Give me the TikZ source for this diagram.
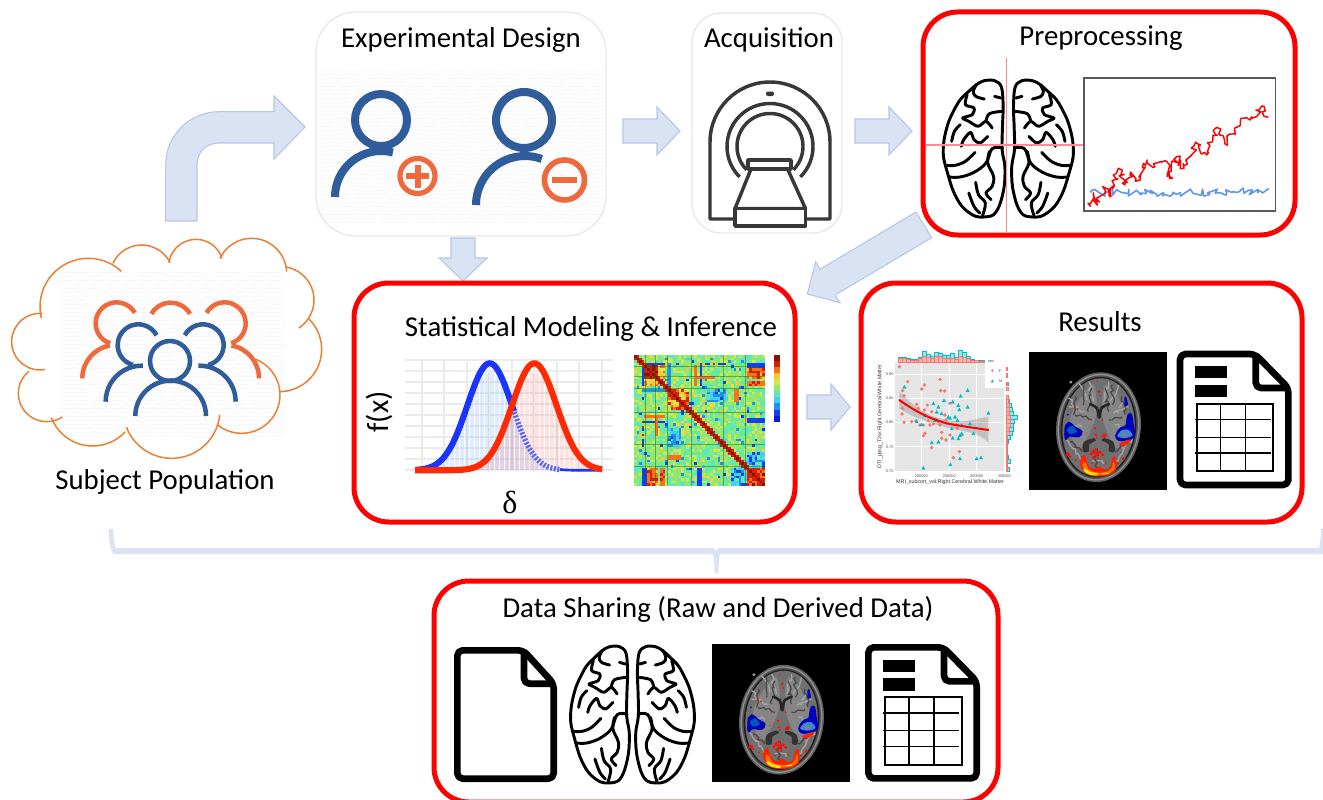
\documentclass[tikz,border=0pt]{standalone}
\usepackage{fontspec}
\setmainfont{Carlito}
\newfontfamily\plotfont{Liberation Sans}
\newfontfamily\greekfont{Liberation Serif}
\usetikzlibrary{decorations.pathmorphing}
\definecolor{arrowfill}{HTML}{DAE3F3}
\definecolor{arrowline}{HTML}{B4C7E7}
\definecolor{iconblue}{HTML}{2F5D9B}
\definecolor{iconorange}{HTML}{EE6A3C}
\definecolor{cloudline}{HTML}{ED7D31}
\definecolor{graybox}{HTML}{E8E8E8}
\definecolor{salmon}{HTML}{F8766D}
\definecolor{tealpt}{HTML}{00BFC4}
\definecolor{seriesblue}{HTML}{6495ED}
\definecolor{gaussblue}{HTML}{1A35FF}
\definecolor{gaussred}{HTML}{FF2A00}
\definecolor{hm0}{HTML}{0A1ECC}
\definecolor{hm1}{HTML}{1040F0}
\definecolor{hm2}{HTML}{2090F0}
\definecolor{hm3}{HTML}{40D0F0}
\definecolor{hm4}{HTML}{60E8B0}
\definecolor{hm5}{HTML}{90E870}
\definecolor{hm6}{HTML}{D0E850}
\definecolor{hm7}{HTML}{F8C830}
\definecolor{hm8}{HTML}{F87018}
\definecolor{hm9}{HTML}{D82008}
\definecolor{hm10}{HTML}{8A1000}
\tikzset{
  boxtitle/.style={inner sep=0pt,font=\fontsize{21.6}{24}\selectfont,text=black},
  plainbox/.style={draw=graybox,line width=1pt,rounded corners=#1,inner sep=0pt,outer sep=0pt},
  redbox/.style={draw=red,line width=3.75pt,rounded corners=26pt,inner sep=0pt,outer sep=0pt},
  fatarrow/.style={fill=arrowfill,draw=arrowline,line width=0.8pt,line join=miter},
  zoomed/.style={shift={#1},x=0.25pt,y=-0.25pt},
  cloudarc/.style={draw=cloudline,line width=1.1pt},
  headline/.style={draw=iconblue,line width=6pt},
  smallblue/.style={draw=iconblue,line width=3.4pt},
  smallorange/.style={draw=iconorange,line width=3.4pt},
  scannerline/.style={draw=black!78,line width=2.6pt,line join=round},
  brainline/.style={draw=black,line width=2.2pt,line cap=round,line join=round},
  docline/.style={draw=black,line width=5pt,line join=round},
  crossline/.style={draw=red!45,line width=1pt},
  noiseback/.style={fill=black!0.6},
  noiserow/.style={draw=black!2.2,line width=0.6pt},
  gridline/.style={draw=black!8,line width=1.5pt},
  plottext/.style={inner sep=0pt,text=black!70,font=\plotfont\fontsize{2.9}{3.2}\selectfont},
  plotaxis/.style={inner sep=0pt,text=black!80,font=\plotfont\fontsize{4}{4.4}\selectfont},
}
\newcommand\noisebg[4]{%
  \fill[noiseback] (#1,#2) rectangle (#3,#4);
  \pgfmathsetseed{77}
  \foreach \yy in {#2,\the\numexpr#2+4\relax,...,#4}{%
    \pgfmathsetmacro\da{4+random(0,24)}%
    \pgfmathsetmacro\db{1+random(0,8)}%
    \draw[noiserow,dash pattern=on \da pt off \db pt] (#1,\yy) -- (#3,\yy);
  }%
}
% circular arc: centre x, centre y, radius, start angle, end angle, style
\newcommand\bump[6]{\draw[#6] (#1,#2) ++(#4:#3) arc[start angle=#4,end angle=#5,radius=#3];}
\newcommand\brainhalf{%
  \draw[brainline] plot[smooth cycle,tension=0.55] coordinates {(245,262)(225,243)(195,243)(172,255)(150,275)(125,300)(105,335)(90,370)(78,420)(76,470)(88,520)(105,575)(130,620)(165,648)(195,652)(222,645)(240,615)(253,560)(255,500)(247,450)(248,380)(250,320)};
  \draw[brainline] plot[smooth,tension=0.6] coordinates {(172,255)(163,275)(170,290)(195,298)};
  \draw[brainline] (225,290) -- (243,295);
  \draw[brainline] plot[smooth,tension=0.5] coordinates {(145,285)(140,315)(165,325)(160,345)(132,355)(150,365)(177,380)(200,365)(218,385)};
  \draw[brainline] plot[smooth,tension=0.6] coordinates {(200,365)(210,342)(248,335)};
  \draw[brainline] plot[smooth,tension=0.6] coordinates {(125,375)(108,395)(100,425)};
  \draw[brainline] plot[smooth,tension=0.5] coordinates {(128,440)(135,420)(155,398)(165,420)(183,430)(205,410)};
  \draw[brainline] plot[smooth,tension=0.6] coordinates {(168,458)(140,485)(110,497)(85,497)};
  \draw[brainline] plot[smooth,tension=0.6] coordinates {(248,445)(218,447)(200,490)(165,518)(125,532)(92,532)};
  \draw[brainline] plot[smooth,tension=0.6] coordinates {(210,455)(205,490)(222,530)(218,560)(200,580)(215,600)};
  \draw[brainline] plot[smooth,tension=0.6] coordinates {(170,548)(178,585)(198,610)(190,648)};
  \draw[brainline] plot[smooth,tension=0.6] coordinates {(150,580)(165,620)(182,640)};
}
\newcommand\drawbrain[3]{%
  \begin{scope}[shift={(#1,#2)},xscale=#3,x=0.25pt,y=-0.25pt,shift={(-265,-448)}]\brainhalf\end{scope}
  \begin{scope}[shift={(#1,#2)},xscale=-#3,x=0.25pt,y=-0.25pt,shift={(-265,-448)}]\brainhalf\end{scope}
}
\newcommand\drawdoc[2]{%
  \begin{scope}[zoomed={(#1,#2)}]
    \draw[docline,rounded corners=4pt] (10,10) -- (235,10) -- (335,112) -- (335,403) -- (10,403) -- cycle;
    \draw[docline,rounded corners=4pt] (237,12) -- (237,112) -- (333,112);
    \fill[black] (55,47) rectangle (150,83);
    \fill[black] (55,103) rectangle (150,140);
    \draw[black,line width=1.4pt] (60,160) rectangle (290,362);
    \foreach \ty in {207,260,307} \draw[black,line width=0.9pt] (55,\ty) -- (283,\ty);
    \foreach \tx in {132,207} \draw[black,line width=0.9pt] (\tx,160) -- (\tx,362);
  \end{scope}
}
\newcommand\drawblank[2]{%
  \begin{scope}[zoomed={(#1,#2)}]
    \draw[docline,rounded corners=4pt] (10,10) -- (208,10) -- (299,110) -- (299,395) -- (10,395) -- cycle;
    \draw[docline,rounded corners=4pt] (210,12) -- (210,110) -- (297,110);
  \end{scope}
}
\newcommand\drawmri[2]{%
  \begin{scope}[shift={(#1,#2)},x=0.25pt,y=-0.25pt,shift={(-217,-217)}]
    \fill[black] (10,10) rectangle (425,425);
    \fill[black!62,rotate around={-6:(220,237)}] (220,237) ellipse [x radius=127,y radius=165];
    \fill[black!42,rotate around={-6:(220,237)}] (220,237) ellipse [x radius=122,y radius=160];
    \fill[black!68,rotate around={-6:(220,237)}] (220,237) ellipse [x radius=118,y radius=156];
    \fill[black!88,rotate around={-6:(220,237)}] (220,237) ellipse [x radius=113,y radius=151];
    \fill[black!56,rotate around={-6:(220,237)}] (220,237) ellipse [x radius=108,y radius=147];
    \fill[black!40] (137,102) circle (5);
    \fill[black!48] plot[smooth cycle] coordinates {(165,150)(205,110)(215,190)(195,250)(165,300)(140,270)(135,210)};
    \fill[black!48] plot[smooth cycle] coordinates {(280,150)(240,110)(230,190)(245,250)(275,300)(300,270)(305,210)};
    \pgfmathsetseed{41}
    \foreach \sx/\sy/\ex/\ey in {160/105/185/155,190/100/205/160,250/100/235/160,280/110/255/160,130/175/180/190,310/175/265/195,125/225/170/235,315/250/270/230,140/300/185/350,300/300/265/350,130/150/160/180,305/150/280/180,120/270/150/300,320/275/290/300,200/340/240/345}
      \draw[black!36,line width=1pt,decorate,decoration={random steps,segment length=2.2pt,amplitude=1.5pt}] (\sx,\sy) -- (\ex,\ey);
    \foreach \sx/\sy/\ex/\ey in {175/110/175/170,262/110/262/170,150/200/200/215,290/205/250/215,135/280/170/310,305/285/270/310,150/145/145/200,290/145/300/200,200/120/190/190,240/120/250/190,215/300/215/380,120/240/165/260}
      \draw[black!72,line width=0.9pt,decorate,decoration={random steps,segment length=2.2pt,amplitude=1.5pt}] (\sx,\sy) -- (\ex,\ey);
    \draw[black!85,line width=2pt,line cap=round] plot[smooth] coordinates {(195,168)(215,180)(221,208)};
    \draw[black!85,line width=2pt,line cap=round] plot[smooth] coordinates {(250,168)(229,180)(223,208)};
    \fill[black!80] plot[smooth cycle] coordinates {(173,310)(176,282)(205,270)(212,277)(193,288)(190,310)};
    \fill[black!80] plot[smooth cycle] coordinates {(268,310)(265,282)(237,270)(230,277)(250,288)(252,310)};
    % left cluster
    \fill[blue!70!black] plot[smooth cycle,tension=0.8] coordinates {(118,240)(125,225)(135,222)(150,235)(172,250)(160,268)(135,265)(120,275)};
    \fill[blue!55!cyan!75!black] plot[smooth cycle] coordinates {(125,245)(140,233)(155,250)(135,258)};
    \fill[blue!75!black] (128,200) circle (3);
    % right cluster
    \fill[blue!75!black] plot[smooth cycle,tension=0.8] coordinates {(270,262)(285,238)(300,232)(305,205)(318,195)(325,225)(327,265)(300,277)(280,278)};
    \fill[cyan!55!blue!80] plot[smooth cycle] coordinates {(276,264)(290,246)(310,245)(322,262)(300,270)};
    \fill[black!50] plot[smooth cycle] coordinates {(288,262)(298,254)(308,260)(298,266)};
    \fill[blue!75!black] plot[smooth cycle] coordinates {(298,150)(303,145)(308,170)(298,172)};
    \fill[red!75!orange] plot[smooth cycle] coordinates {(283,286)(315,274)(312,285)(290,293)};
    % occipital activity
    \fill[red!75!orange] plot[smooth cycle,tension=0.6] coordinates {(168,328)(180,322)(188,350)(205,362)(222,355)(240,365)(256,355)(262,328)(272,330)(272,365)(245,382)(205,384)(178,372)(165,350)};
    \fill[orange!90!red] plot[smooth cycle,tension=0.6] coordinates {(172,345)(182,345)(190,362)(208,372)(240,372)(258,362)(266,340)(268,362)(245,378)(205,380)(180,368)};
    \draw[yellow!85!orange,line width=2pt,line cap=round] (178,365) .. controls (190,376) and (200,378) .. (215,378);
    \draw[yellow!85!orange,line width=1pt,line cap=round] (232,375) -- (250,375);
    \foreach \px/\py/\pr in {198/318/5,205/310/6,212/303/4,215/318/7,225/312/5,232/320/5,205/328/5,218/330/4,128/318/6,135/325/4,150/175/3,158/182/3,210/240/4,212/260/4,238/262/6,232/265/3,222/130/4,225/142/3,217/100/2,232/215/3,190/215/2,270/330/3,295/332/5,278/345/3,152/335/3,185/255/2,240/345/3,200/345/3,245/305/2,160/300/2,215/268/3}
      \fill[red!90!orange] (\px,\py) circle (\pr);
  \end{scope}
}
\newcount\hmA \newcount\hmB \newcount\hmH \newcount\hmQ \newcount\hmV
\newcommand\hmset[5]{\ifnum\hmA<#1 \else\ifnum\hmA>#2 \else\ifnum\hmB<#3 \else\ifnum\hmB>#4 \else\hmV=\numexpr#5\relax\fi\fi\fi\fi}
\newcommand\hmvalue[2]{%
  \hmA=#1 \hmB=#2
  \hmH=\numexpr\hmA*\hmA*13+\hmB*\hmB*7+\hmA*\hmB*11+\hmA*3+\hmB*5\relax
  \hmQ=\hmH \divide\hmQ by 101 \multiply\hmQ by 101 \advance\hmH by -\hmQ
  \hmV=\numexpr38+\hmH*28/100\relax
  \ifnum\hmH<5 \hmV=25 \fi
  \ifnum\hmH<2 \hmV=12 \fi
  \ifnum\hmH>97 \hmV=76 \fi
  \hmset{3}{3}{3}{11}{12}%
  \hmset{4}{8}{4}{8}{86+\hmH/6}%
  \hmset{4}{8}{9}{11}{58+\hmH/4}%
  \hmset{3}{11}{13}{13}{20}%
  \hmset{13}{20}{13}{20}{82+\hmH/5}%
  \hmset{13}{16}{17}{20}{62+\hmH/3}%
  \hmset{15}{16}{15}{16}{62}%
  \hmset{43}{49}{43}{49}{82+\hmH/5}%
  \hmset{3}{3}{43}{49}{12}%
  \hmset{4}{4}{43}{49}{12}%
  \hmset{5}{8}{43}{49}{76+\hmH/5}%
  \hmset{10}{11}{43}{49}{80+\hmH/8}%
  \hmset{24}{25}{43}{49}{12}%
  \hmset{37}{42}{43}{49}{10+\hmH/3}%
  \hmset{40}{42}{37}{42}{24+\hmH/3}%
  \hmset{13}{17}{28}{34}{18+\hmH/4}%
  \hmset{13}{17}{38}{39}{88}%
  \hmset{4}{11}{25}{25}{14}%
  \hmset{4}{11}{23}{23}{84}%
  \hmset{3}{3}{25}{36}{14+(\hmH/60)*38}%
  \hmset{8}{8}{24}{30}{86}%
  \ifnum\hmA=\hmB \hmV=100 \fi
  \ifnum\numexpr\hmB-\hmA\relax=1 \hmV=95 \fi
  \ifnum\hmV>100 \hmV=100 \fi
}
\begin{document}
\begin{tikzpicture}[x=0.75pt,y=-0.75pt]
\useasboundingbox (0,0) rectangle (1323,799);
\fill[white] (0,0) rectangle (1323,799);

\noisebg{60}{272}{285}{437}
\noisebg{319}{70}{604}{222}

% cloud and crowd
\begin{scope}[zoomed={(0,230)}]
  \bump{120}{335}{85}{275}{80}{cloudarc}
  \bump{265}{230}{145}{166}{313}{cloudarc}
  \bump{425}{140}{95}{205}{334}{cloudarc}
  \bump{588}{110}{82}{189}{342}{cloudarc}
  \bump{755}{130}{105}{205}{357}{cloudarc}
  \bump{842}{210}{100}{279}{417}{cloudarc}
  \bump{838}{358}{127}{-47}{90}{cloudarc}
  \bump{725}{495}{115}{-73}{130}{cloudarc}
  \bump{515}{540}{145}{6}{159}{cloudarc}
  \bump{278}{515}{133}{43}{159}{cloudarc}
  \bump{140}{490}{85}{57}{231}{cloudarc}
  \bump{350}{280}{63}{330}{108}{smallorange}
  \bump{347}{445}{100}{180}{260}{smallorange}
  \bump{512}{285}{67}{210}{330}{smallorange}
  \bump{674}{280}{63}{210}{432}{smallorange}
  \bump{677}{445}{100}{360}{280}{smallorange}
  \bump{415}{345}{62}{332}{105}{smallblue}
  \bump{425}{515}{108}{180}{272}{smallblue}
  \bump{609}{345}{62}{208}{435}{smallblue}
  \bump{599}{515}{108}{360}{268}{smallblue}
  \draw[smallblue] (510,393) circle (60);
  \bump{512}{558}{106}{180}{360}{smallblue}
\end{scope}
\node[boxtitle] (subject) at (165,481.5) {Subject Population};

% block arrows
\draw[fatarrow] (165.7,221) -- (165.7,165) .. controls (165.7,135) and (190,111.7) .. (219,111.7) -- (274,111.7) -- (274,96) -- (305,127) -- (274,159) -- (274,143) -- (219,143) .. controls (206,143) and (197,152) .. (197,165) -- (197,221) -- cycle;
\draw[fatarrow] (623,119) -- (657,119) -- (657,107) -- (680,131) -- (657,155) -- (657,143) -- (623,143) -- cycle;
\draw[fatarrow] (855,119) -- (889,119) -- (889,107) -- (912,131) -- (889,155) -- (889,143) -- (855,143) -- cycle;
\draw[fatarrow] (451,238) -- (475,238) -- (475,258) -- (487,258) -- (463,281) -- (439,258) -- (451,258) -- cycle;
\draw[fatarrow] (916,212) -- (931.7,237.7) -- (835,295) -- (840,302.7) -- (807.3,294) -- (815.7,261.7) -- (820,269.3) -- cycle;
\draw[fatarrow] (807,395) -- (831,395) -- (831,384) -- (850,407) -- (831,430) -- (831,419) -- (807,419) -- cycle;

% bracket
\fill[arrowfill] (109,529) -- (113,529) .. controls (113.5,538) and (114,544) .. (116,548) -- (713,548) -- (716,551) -- (719,548) -- (1319,548) .. controls (1320,544) and (1321,538) .. (1321,529) -- (1323,529) -- (1323,554) -- (720,554) .. controls (718.5,560) and (718.5,566) .. (718.5,573) -- (714.5,573) .. controls (714.5,566) and (714.5,560) .. (713,554) -- (114,554) .. controls (110,552) and (109,540) .. (109,529) -- cycle;

% boxes
\node[plainbox=30pt,minimum width=217.5pt,minimum height=168pt] (design) at (461,124) {};
\node[plainbox=22pt,minimum width=112.5pt,minimum height=165pt] (acq) at (767,123) {};
\node[redbox,minimum width=279pt,minimum height=167.25pt] (prep) at (1109,123.5) {};
\node[redbox,minimum width=330.75pt,minimum height=179.25pt] (stats) at (574.5,402.5) {};
\node[redbox,minimum width=330.75pt,minimum height=179.25pt] (results) at (1081.5,402.5) {};
\node[redbox,minimum width=423pt,minimum height=165.75pt] (share) at (716,691.5) {};

\node[boxtitle] (t1) at (461,39.5) {Experimental Design};
\node[boxtitle] (t2) at (769,39.5) {Acquisition};
\node[boxtitle] (t3) at (1101,38.5) {Preprocessing};
\node[boxtitle] (t4) at (591,328.5) {Statistical Modeling \& Inference};
\node[boxtitle] (t5) at (1100,322) {Results};
\node[boxtitle] (t6) at (718,609.5) {Data Sharing (Raw and Derived Data)};

% experimental design icons
\draw[headline] (381,120) circle (26);
\bump{381}{197}{46}{180}{285}{headline}
\draw[draw=iconorange,line width=3.9pt] (417.5,176) circle (17.5);
\fill[iconorange] (414.5,164.5) rectangle (420.5,187.5);
\fill[iconorange] (406,173) rectangle (429,179);
\draw[headline] (524,120) circle (28);
\bump{525}{205}{49}{180}{290}{headline}
\draw[draw=iconorange,line width=4.2pt] (564.5,180) circle (20);
\fill[iconorange] (552,177) rectangle (577,183);

% scanner
\draw[scannerline] (735,219) -- (710,219) -- (710,142) arc[start angle=180,end angle=360,radius=60] -- (830,219) -- (805,219);
\fill[black!78,rounded corners=1.5pt] (766,91.5) rectangle (774,96);
\bump{770}{146.5}{43}{135}{405}{scannerline}
\bump{770}{146.5}{33}{135}{405}{scannerline}
\draw[scannerline,fill=white] (751,169) -- (735,208.6) -- (805.5,208.6) -- (787.6,169) -- cycle;
\draw[scannerline,fill=white] (748,160) rectangle (791,169);
\draw[scannerline,fill=white] (735,208.6) rectangle (805.5,226);

% preprocessing panel
\drawbrain{1008.3}{149}{1.03}
\draw[crossline] (1006.7,58) -- (1006.7,232);
\draw[crossline] (926,145) -- (1084,145);
\draw[black!65,line width=1.1pt] (1084,78) rectangle (1275.3,211);
\begin{scope}[zoomed={(920,0)}]
  \pgfmathsetseed{12}
  \draw[draw=seriesblue,line width=1.2pt,line join=round,decorate,decoration={random steps,segment length=2pt,amplitude=2.8pt}] (512,578) -- (640,578) -- (780,578) -- (900,578) -- (1045,570);
  \draw[red,line width=1.1pt,line join=round,decorate,decoration={random steps,segment length=2pt,amplitude=2.6pt}] (512,620) -- (520,578) -- (532,615) -- (552,562) -- (570,590) -- (595,505) -- (615,555) -- (630,525) -- (660,540) -- (682,480) -- (705,500) -- (735,482) -- (748,535) -- (770,470) -- (792,505) -- (830,430) -- (860,465) -- (890,382) -- (915,432) -- (965,355) -- (990,360) -- (1025,318) -- (1045,352);
\end{scope}

% distributions
\begin{scope}[zoomed={(350,280)}]
  \foreach \gy in {240,272,305,338,371,404,437,470,503,537,570} \draw[gridline] (165,\gy) -- (790,\gy);
  \foreach \gx in {215,283,350,418,486,553,621,688,757} \draw[gridline] (\gx,240) -- (\gx,575);
  \foreach \bx in {215,230,...,630} {
    \pgfmathsetmacro\hb{295*exp(-0.5*((\bx-419)/67)^2)}
    \fill[blue!60!cyan!60,opacity=0.2] ({\bx-6},571) rectangle ({\bx+6},{571-\hb});
  }
  \foreach \bx in {350,365,...,760} {
    \pgfmathsetmacro\hb{295*exp(-0.5*((\bx-553)/67)^2)}
    \fill[red!70,opacity=0.16] ({\bx-6},571) rectangle ({\bx+6},{571-\hb});
  }
\end{scope}
\draw[draw=gaussblue,line width=2pt] plot[domain=560:602,samples=15] (\x,{470.3-107*exp(-0.5*((\x-489.7)/22.3)^2)});
\draw[draw=gaussblue!75,line width=4pt,dash pattern=on 1.5pt off 1.2pt] plot[domain=512:560,samples=25] (\x,{470.3-107*exp(-0.5*((\x-489.7)/22.3)^2)});
\draw[draw=gaussblue,line width=4.6pt] plot[domain=415:514,samples=50] (\x,{470.3-107*exp(-0.5*((\x-489.7)/22.3)^2)});
\draw[draw=gaussred,line width=4.6pt] plot[domain=415:602,samples=80] (\x,{470.3-107*exp(-0.5*((\x-534.3)/22.3)^2)});
\node[inner sep=0pt,font=\fontsize{23}{25}\selectfont,rotate=90] (fx) at (379,412) {f(x)};
\node[inner sep=0pt,font=\greekfont\fontsize{24}{26}\selectfont] (delta) at (510,502) {δ};

% matrix
\begin{scope}
\foreach \i in {0,...,49}{
  \foreach \j in {\i,...,49}{
    \hmvalue{\i}{\j}%
    \edef\hmc{hm\the\numexpr(\hmV-5)/10\relax}%
    \fill[\hmc] ({634+2.62*\j},{355+2.62*\i}) rectangle ++(2.7,2.7);
    \fill[\hmc] ({634+2.62*\i},{355+2.62*\j}) rectangle ++(2.7,2.7);
  }
}
\foreach \f in {0.084,0.16,0.254,0.44,0.68,0.85}{
  \draw[black!60!green,line width=0.4pt,opacity=0.45] (634,{355+131*\f}) -- (765,{355+131*\f});
  \draw[black!60!green,line width=0.4pt,opacity=0.45] ({634+131*\f},355) -- ({634+131*\f},486);
}
\foreach \k in {0,...,10}{
  \fill[hm\k] (774,{421.7-6.1*(\k+1)}) rectangle (779.5,{421.7-6.1*\k});
}
\end{scope}

% scatter plot
\begin{scope}[zoomed={(870,345)}]
  \fill[black!10] (76,50) rectangle (405,380);
  \foreach \gy in {87,160,232,305,378} \draw[white,line width=0.5pt] (76,\gy) -- (405,\gy);
  \foreach \gx in {154,238,320,403} \draw[white,line width=0.5pt] (\gx,50) -- (\gx,380);
  \foreach \bx/\bf/\bm in {85/10/4,97/11/3,109/7/3,121/5/3,133/5/3,145/11/4,157/18/14,169/15/9,181/12/5,193/18/10,205/18/8,217/12/7,229/10/9,241/10/15,253/8/7,265/16/18,277/15/15,289/10/6,301/6/3,313/4/2,325/3/2,337/2/2,349/2/1,361/1/1,373/2/1}{
    \draw[tealpt,fill=tealpt!40,line width=0.25pt] (\bx,50) rectangle ({\bx+11},{50-\bf-\bm});
    \draw[salmon,fill=salmon!55,line width=0.25pt] (\bx,50) rectangle ({\bx+11},{50-\bf});
  }
  \foreach \by/\bf/\bm in {65/4/0,85/3/0,110/4/1,125/5/1,150/5/1,163/7/3,175/9/5,187/10/8,199/10/12,211/12/20,223/13/12,235/12/10,247/8/12,259/8/10,271/4/8,283/4/3,295/3/1,307/3/1,319/3/1,331/3/2,343/3/8,355/2/2,367/3/7}{
    \draw[tealpt,fill=tealpt!40,line width=0.25pt] (408,\by) rectangle ({408+\bf+\bm},{\by+11});
    \draw[salmon,fill=salmon!55,line width=0.25pt] (408,\by) rectangle ({408+\bf},{\by+11});
  }
  \fill[black!55,opacity=0.3] (88,140) .. controls (120,170) and (140,190) .. (170,205) .. controls (200,222) and (250,232) .. (290,228) -- (355,215) -- (355,292) .. controls (330,270) and (310,262) .. (290,260) .. controls (250,252) and (200,242) .. (170,228) .. controls (140,220) and (110,205) .. (88,190) -- cycle;
  \fill[white] (345,45) rectangle (405,130);
  \foreach \px/\py in {88/65,113/110,98/137,102/152,95/170,97/190,96/207,102/232,125/230,138/228,140/178,155/132,163/120,210/103,212/137,224/138,145/190,163/195,150/240,172/180,185/200,175/228,160/240,180/240,190/237,165/265,160/272,200/225,210/240,215/262,215/280,228/285,185/308,205/230,228/225,250/240,260/240,250/338,268/320,225/210,240/175,240/270,262/250,275/270}
    \fill[salmon] (\px,\py) circle (5.5);
  \foreach \px/\py in {103/125,160/368,241/358,270/340,320/340,333/337,293/135,272/152,355/203,190/175,205/185,200/200,222/165,248/170,265/180,268/193,293/185,240/218,255/215,262/225,275/240,300/235,310/265,275/265,245/250,185/292,205/290,140/228,155/238,165/210,195/225,215/205,235/215,270/270,265/280,248/278}
    \fill[tealpt] ({\px-6},{\py+5.5}) -- ({\px+6},{\py+5.5}) -- (\px,{\py-5.5}) -- cycle;
  \draw[red,line width=1.5pt,line cap=round] (88,165) .. controls (130,195) and (170,218) .. (230,235) .. controls (270,243) and (310,248) .. (355,255);
  \fill[salmon] (367,77) circle (4);
  \fill[tealpt] (362,112) -- (372,112) -- (367,103) -- cycle;
  \foreach \ty/\tl in {87/0.90,160/0.85,232/0.80,305/0.75,378/0.70} \node[plottext,anchor=east] at (71,\ty) {\tl};
  \foreach \tx/\tl in {154/200000,238/250000,320/300000,403/350000} \node[plottext] at (\tx,393) {\tl};
  \node[plottext] at (363,50) {sex};
  \node[plottext] at (390,77) {F};
  \node[plottext] at (392,108) {M};
  \node[plotaxis] at (240,412) {MRI\_subcort\_vol:Right.Cerebral.White.Matter};
  \node[plotaxis,rotate=90] at (30,215) {DTI\_pasg\_T2w:Right.Cerebral.White.Matter};
\end{scope}

\drawmri{1097.5}{420.5}
\drawdoc{1176.7}{350.7}

% data sharing row
\drawblank{454}{647}
\drawbrain{632.5}{715}{0.98}
\drawmri{780.5}{713}
\drawdoc{865}{644}
\end{tikzpicture}
\end{document}
